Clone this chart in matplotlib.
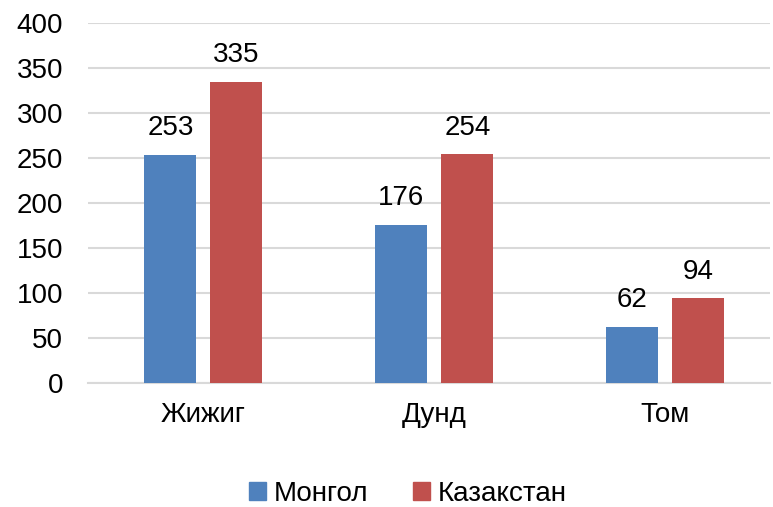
import numpy as np
import matplotlib
matplotlib.use('Agg')
import matplotlib.pyplot as plt
from matplotlib.patches import Patch

plt.rcParams['font.family'] = ['Liberation Sans', 'DejaVu Sans']

categories = ['Жижиг', 'Дунд', 'Том']
series = ['Монгол', 'Казакстан']
mongol = [253, 176, 62]
kazakh = [335, 254, 94]
colors = ['#4F81BD', '#C0504D']

fig = plt.figure(figsize=(7.73, 5.07), dpi=100)
ax = fig.add_axes([0.1138, 0.2446, 0.882, 0.71])

x = np.arange(len(categories))
w = 0.225
off = 0.143
b1 = ax.bar(x - off, mongol, w, color=colors[0], zorder=3)
b2 = ax.bar(x + off, kazakh, w, color=colors[1], zorder=3)
for bars in (b1, b2):
    ax.bar_label(bars, padding=10, fontsize=20)

ax.set_xlim(-0.5, 2.452)
ax.set_ylim(0, 400)
ax.set_yticks(range(0, 401, 50))
ax.set_xticks(x)
ax.set_xticklabels(categories)
ax.grid(axis='y', color='#D9D9D9', linewidth=1.5, zorder=0)
for s in ['top', 'right', 'left']:
    ax.spines[s].set_visible(False)
ax.spines['bottom'].set_color('#D9D9D9')
ax.spines['bottom'].set_linewidth(1.5)
ax.tick_params(axis='y', length=0, pad=18, labelsize=20)
ax.tick_params(axis='x', length=0, pad=14, labelsize=20)

handles = [Patch(color=c) for c in colors]
fig.legend(handles, series, loc='center', bbox_to_anchor=(0.528, 0.026),
           ncol=2, frameon=False, fontsize=20, handlelength=0.6,
           handleheight=0.6, handletextpad=0.3, columnspacing=1.6)

fig.savefig('out.png', dpi=100)
